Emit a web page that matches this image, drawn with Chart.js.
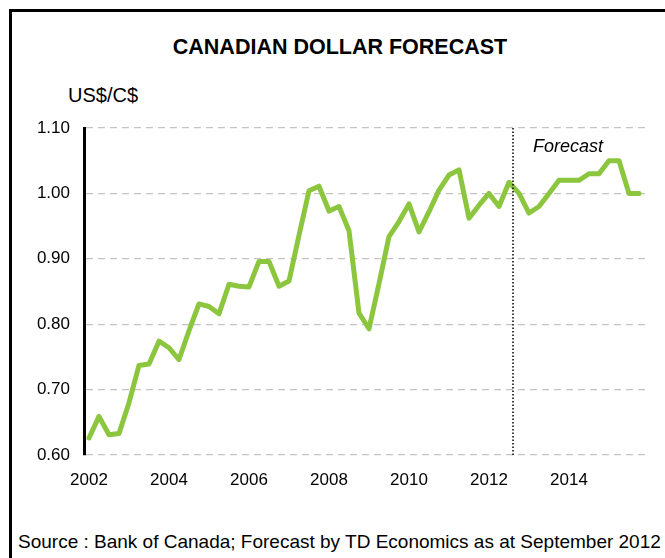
<!DOCTYPE html>
<html lang="en">
<head>
  <meta charset="UTF-8" />
  <title>Canadian Dollar Forecast</title>
  <script src="https://cdn.jsdelivr.net/npm/chart.js"></script>
  <style>
    body {
      margin: 0;
      padding: 0;
      width: 665px;
      height: 558px;
      overflow: hidden;
      background: #fff;
      font-family: 'Liberation Sans', Arial, sans-serif;
      position: relative;
    }

    .frame {
      position: absolute;
      left: 9px;
      top: 9px;
      width: 700px;
      height: 600px;
      border: 3px solid #000;
    }

    .title {
      position: absolute;
      top: 35px;
      left: 0;
      width: 680px;
      text-align: center;
      font-weight: bold;
      font-size: 21.5px;
    }

    .unit {
      position: absolute;
      left: 68px;
      top: 84px;
      font-size: 20px;
    }

    .source {
      position: absolute;
      left: 18px;
      top: 531px;
      font-size: 19px;
      white-space: nowrap;
    }

    #chart-box {
      position: absolute;
      left: 0;
      top: 100px;
      width: 665px;
      height: 400px;
    }
  </style>
</head>
<body>

<div class="frame"></div>
<div class="title">CANADIAN DOLLAR FORECAST</div>
<div class="unit">US$/C$</div>
<div class="source">Source : Bank of Canada; Forecast by TD Economics as at September 2012</div>
<div id="chart-box"><canvas id="fxChart"></canvas></div>

<script>
  // quarterly, 2002 Q1 .. 2015 Q4
  const startYear = 2002;
  const yearLabels = ["2002", "2004", "2006", "2008", "2010", "2012", "2014"];
  const usdPerCad = [
    0.626, 0.659, 0.631, 0.633,
    0.680, 0.737, 0.739, 0.774,
    0.764, 0.746, 0.790, 0.831,
    0.827, 0.816, 0.861, 0.858,
    0.857, 0.896, 0.896, 0.858,
    0.866, 0.936, 1.004, 1.011,
    0.973, 0.980, 0.943, 0.817,
    0.793, 0.862, 0.934, 0.957,
    0.984, 0.941, 0.972, 1.005,
    1.028, 1.036, 0.962, 0.982,
    1.000, 0.980, 1.017, 1.000,
    0.970, 0.980, 1.000, 1.020,
    1.020, 1.020, 1.030, 1.030,
    1.050, 1.050, 1.000, 1.000
  ];
  const yTicks = [0.60, 0.70, 0.80, 0.90, 1.00, 1.10];
  const forecastStart = 42.4;   // quarter index where the dotted line sits
  const forecastLabel = "Forecast";

  const points = usdPerCad.map((v, i) => ({ x: i, y: v }));

  // dotted line + "Forecast" label
  const forecastMarker = {
    id: 'forecastMarker',
    afterDatasetsDraw(chart) {
      const { ctx, chartArea, scales } = chart;
      const x = scales.x.getPixelForValue(forecastStart);
      ctx.save();
      ctx.strokeStyle = '#000';
      ctx.lineWidth = 1.5;
      ctx.setLineDash([1.5, 2]);
      ctx.beginPath();
      ctx.moveTo(x, chartArea.top);
      ctx.lineTo(x, chartArea.bottom);
      ctx.stroke();
      ctx.setLineDash([]);
      ctx.fillStyle = '#000';
      ctx.font = 'italic 18px "Liberation Sans", Arial, sans-serif';
      ctx.textAlign = 'left';
      ctx.textBaseline = 'middle';
      ctx.fillText(forecastLabel, x + 20, scales.y.getPixelForValue(1.071));
      ctx.restore();
    }
  };

  new Chart(document.getElementById('fxChart'), {
    type: 'line',
    data: {
      datasets: [{
        data: points,
        borderColor: '#8cc63f',
        borderWidth: 5,
        pointRadius: 0,
        tension: 0,
        borderJoinStyle: 'round',
        borderCapStyle: 'round'
      }]
    },
    options: {
      responsive: true,
      maintainAspectRatio: false,
      animation: false,
      layout: { padding: { top: 28, right: 20, left: 0, bottom: 0 } },
      plugins: {
        legend: { display: false },
        tooltip: { enabled: false }
      },
      scales: {
        x: {
          type: 'linear',
          min: -0.5,
          max: 55.6,
          grid: { display: false, drawTicks: false },
          border: { display: false },
          afterBuildTicks(scale) {
            scale.ticks = yearLabels.map((_, k) => ({ value: k * 8 }));
          },
          afterFit(scale) { scale.height = 45; },
          ticks: {
            padding: 15,
            color: '#000',
            font: { size: 17, family: '"Liberation Sans", Arial, sans-serif' },
            maxRotation: 0,
            callback: (v) => yearLabels[v / 8]
          }
        },
        y: {
          min: 0.6,
          max: 1.1,
          afterBuildTicks(scale) {
            scale.ticks = yTicks.map(v => ({ value: v }));
          },
          afterFit(scale) { scale.width = 84; },
          grid: { color: '#c4c4c4', lineWidth: 1.2, drawTicks: false },
          border: { display: true, color: '#000', width: 3, dash: [7, 5] },
          ticks: {
            padding: 14,
            color: '#000',
            font: { size: 17, family: '"Liberation Sans", Arial, sans-serif' },
            callback: (v) => v.toFixed(2)
          }
        }
      }
    },
    plugins: [forecastMarker]
  });
</script>
</body>
</html>
